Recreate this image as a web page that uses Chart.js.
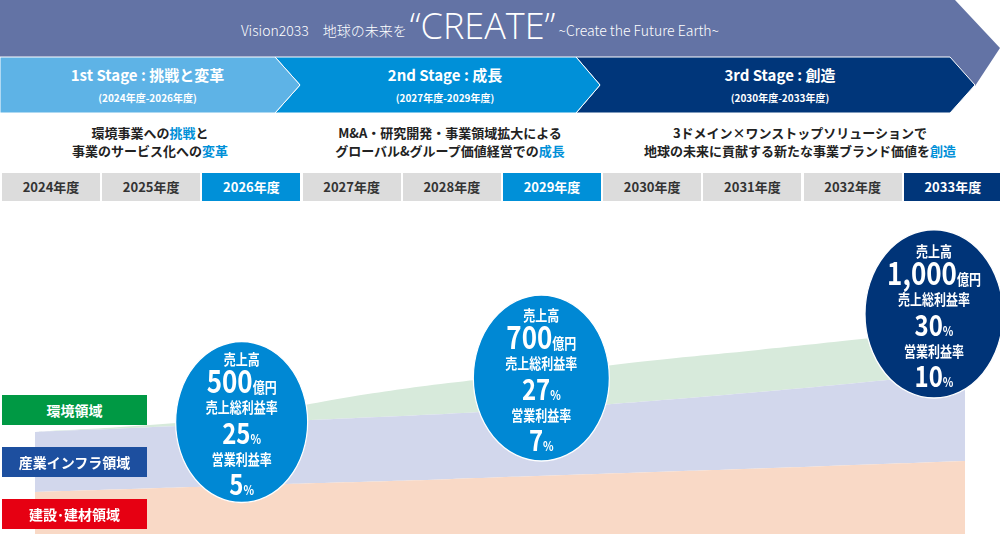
<!DOCTYPE html><html><head><meta charset="utf-8">
<script src="https://cdn.jsdelivr.net/npm/chart.js@4"></script>
<style>
body{margin:0;width:1000px;height:534px;overflow:hidden;background:#fff;font-family:"Noto Sans CJK JP","Noto Sans",sans-serif}
#wrap{position:relative;width:1000px;height:534px}
.abs{position:absolute}
.t{position:absolute;text-align:center;color:#fff;font-weight:bold}
.row{position:absolute;text-align:center;font-weight:bold;font-size:13px;line-height:18px;color:#222}
.hl{color:#0090d8}
.yr{position:absolute;top:173px;height:28px;width:98px;line-height:28px;text-align:center;font-size:13px;font-weight:bold;background:#dcdcdc;color:#333}
.lg{position:absolute;left:2px;width:145px;height:30px;line-height:30px;color:#fff;font-weight:bold;font-size:14px;text-align:center}
canvas{position:absolute;left:0;top:0}
</style></head><body><div id="wrap">
<svg class="abs" style="left:0;top:0" width="1000" height="120">
<polygon points="0,0 955,0 1000,48 975,86 0,86" fill="#6373a5"/>
<polygon points="576,57 950,57 975,85 950,113 576,113 600,85" fill="#00367a" stroke="#fff" stroke-width="1"/>
<polygon points="275,57 576,57 600,85 576,113 275,113 300,85" fill="#0090d8" stroke="#fff" stroke-width="1"/>
<polygon points="0,57 275,57 300,85 275,113 0,113" fill="#5eb3e6" stroke="#fff" stroke-width="1"/>
</svg>
<div class="t" style="left:0;width:960px;top:6px;font-weight:300;font-size:14px;line-height:40px">Vision2033　地球の未来を <span style="font-size:36px;vertical-align:-3px;font-family:'Open Sans';font-weight:300">“CREATE”</span> ~Create the Future Earth~</div>
<div class="t" style="left:0;width:295px;top:64px;font-size:15px">1st Stage : 挑戦と変革</div>
<div class="t" style="left:0;width:295px;top:90px;font-size:10px">(2024年度-2026年度)</div>
<div class="t" style="left:290px;width:310px;top:64px;font-size:15px">2nd Stage : 成長</div>
<div class="t" style="left:290px;width:310px;top:90px;font-size:10px">(2027年度-2029年度)</div>
<div class="t" style="left:590px;width:380px;top:64px;font-size:15px">3rd Stage : 創造</div>
<div class="t" style="left:590px;width:380px;top:90px;font-size:10px">(2030年度-2033年度)</div>
<div class="row" style="left:0;width:300px;top:124px">環境事業への<span class="hl">挑戦</span>と<br>事業のサービス化への<span class="hl">変革</span></div>
<div class="row" style="left:300px;width:300px;top:124px">M&amp;A・研究開発・事業領域拡大による<br>グローバル&amp;グループ価値経営での<span class="hl">成長</span></div>
<div class="row" style="left:600px;width:400px;top:124px">3ドメイン×ワンストップソリューションで<br>地球の未来に貢献する新たな事業ブランド価値を<span class="hl">創造</span></div>
<div id="years"></div>
<canvas id="c" width="1000" height="534"></canvas>
<div class="lg" style="top:395px;background:#009944">環境領域</div>
<div class="lg" style="top:447px;background:#1d4f9f">産業インフラ領域</div>
<div class="lg" style="top:499px;background:#e60012">建設･建材領域</div>
</div>
<script>
const years=[2024,2025,2026,2027,2028,2029,2030,2031,2032,2033];
const yearLabels=years.map(y=>y+"年度");
const construction=[13.2,14.2,15.2,16.2,17.2,18.3,19.4,20.5,21.7,22.9];
const infra=[18.8,19.1,19.5,20.0,20.5,21.2,22.4,24.0,25.8,27.9];
const environment=[0,0.6,2.2,6.5,9.6,11.3,12.7,13.2,13.6,13.8];
const circles=[
 {x:2026,y:35.1,r:66,color:"#0088d4",sales:"500",gross:"25",op:"5"},
 {x:2028.9,y:48.9,r:68,color:"#0088d4",sales:"700",gross:"27",op:"7"},
 {x:2032.7,y:69.0,r:69,color:"#003478",sales:"1,000",gross:"30",op:"10"}];
const yc=document.getElementById('years');
yearLabels.forEach((l,i)=>{const d=document.createElement('div');d.className='yr';d.style.left=(2+i*100.2)+'px';d.textContent=l;
 if(i==2||i==5){d.style.background='#0090d8';d.style.color='#fff'} if(i==9){d.style.background='#00367a';d.style.color='#fff'} yc.appendChild(d);});
const pts=a=>a.map((v,i)=>({x:years[i],y:v}));
const SY=1.22;
const circlePlugin={id:'cp',afterDatasetsDraw(ch){const c=ch.ctx,xs=ch.scales.x,ys=ch.scales.y;
 circles.forEach(o=>{const cx=xs.getPixelForValue(o.x),cy=ys.getPixelForValue(o.y);
  c.save();c.translate(cx,cy);c.scale(1,SY);
  c.beginPath();c.arc(0,0,o.r,0,Math.PI*2);c.fillStyle=o.color;c.fill();c.strokeStyle='#fff';c.lineWidth=1.2;c.stroke();
  c.fillStyle='#fff';c.textAlign='center';c.textBaseline='alphabetic';
  const F='"Noto Sans CJK JP",sans-serif';
  const mix=(parts,y)=>{let w=0;parts.forEach(p=>{c.font=p[1];w+=c.measureText(p[0]).width});let x=-w/2;c.textAlign='left';
   parts.forEach(p=>{c.font=p[1];c.fillText(p[0],x,y);x+=c.measureText(p[0]).width});c.textAlign='center'};
  c.font='bold 12px '+F;c.fillText('売上高',0,-47);
  mix([[o.sales,'bold 26px '+F],['億円','bold 12px '+F]],-24);
  c.font='bold 12px '+F;c.fillText('売上総利益率',0,-7);
  mix([[o.gross,'bold 24px '+F],['%','bold 11px '+F]],18);
  c.font='bold 12px '+F;c.fillText('営業利益率',0,35);
  mix([[o.op,'bold 24px '+F],['%','bold 11px '+F]],60);
  c.restore();});}};
new Chart(document.getElementById('c'),{type:'line',
 data:{datasets:[
  {label:'建設・建材領域',data:pts(construction),fill:'origin',backgroundColor:'#f9d9c6',borderWidth:0,pointRadius:0,tension:0.4},
  {label:'産業インフラ領域',data:pts(infra),fill:'-1',backgroundColor:'#d2d7ec',borderWidth:0,pointRadius:0,tension:0.4},
  {label:'環境領域',data:pts(environment),fill:'-1',backgroundColor:'#d7eadb',borderWidth:0,pointRadius:0,tension:0.4}]},
 options:{responsive:false,animation:false,layout:{padding:{left:35,right:35,top:215,bottom:0}},
  plugins:{legend:{display:false},tooltip:{enabled:false}},
  scales:{x:{type:'linear',min:2024,max:2033,display:false},y:{stacked:true,min:0,max:100,display:false}}},
 plugins:[circlePlugin]});
</script></body></html>
